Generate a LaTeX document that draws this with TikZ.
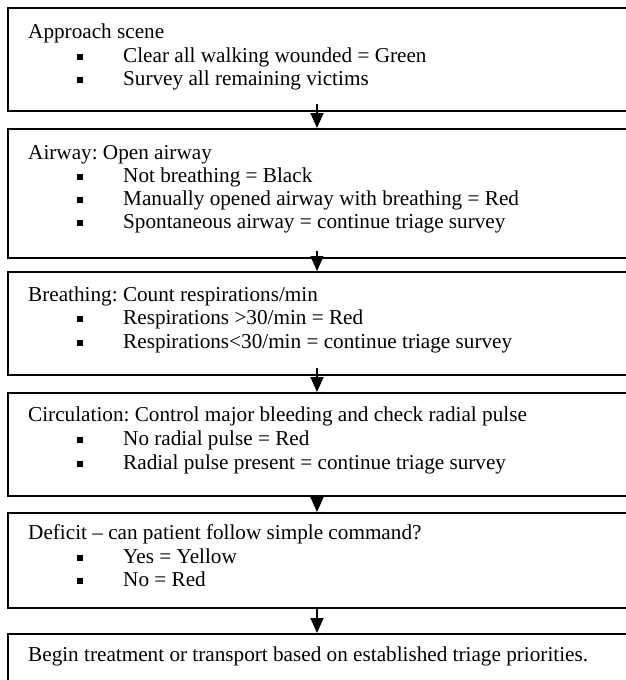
\documentclass[tikz,border=0pt]{standalone}
\usepackage{fontspec}
\setmainfont{Liberation Serif}
\usetikzlibrary{arrows.meta}
\frenchspacing
\tikzset{
  box/.style={draw, line width=1.5pt, rectangle, anchor=north west, minimum width=680pt, inner sep=0pt},
  ttl/.style={anchor=base west, inner sep=0pt, font=\fontsize{21.2}{24}\selectfont},
  itm/.style={anchor=base west, inner sep=0pt, font=\fontsize{21.2}{24}\selectfont},
  bul/.style={fill=black, draw=none, minimum size=5.5pt, inner sep=0pt, rectangle},
  arr/.style={line width=1.5pt, -{Triangle[width=13pt,length=15pt]}}
}
\begin{document}
\begin{tikzpicture}[x=1pt,y=-1pt]
\useasboundingbox (0,0) rectangle (626,680);
\fill[white] (0,0) rectangle (626,680);
\coordinate (ax) at (317,0);
% boxes
\node[box, minimum height=103pt] (b1) at (7,7) {};
\node[box, minimum height=129pt] (b2) at (7,128) {};
\node[box, minimum height=103pt] (b3) at (7,271) {};
\node[box, minimum height=103pt] (b4) at (7,392) {};
\node[box, minimum height=95pt] (b5) at (7,512) {};
\node[box, minimum height=80pt] (b6) at (7,633) {};
% box 1
\node[ttl] (t1) at (28,38) {Approach scene};
\node[bul] (k11) at (80,57) {};
\node[itm] (i11) at (123,62) {Clear all walking wounded = Green};
\node[bul] (k12) at (80,80) {};
\node[itm] (i12) at (123,85) {Survey all remaining victims};
% box 2
\node[ttl] (t2) at (28,159) {Airway: Open airway};
\node[bul] (k21) at (80,177) {};
\node[itm] (i21) at (123,182) {Not breathing = Black};
\node[bul] (k22) at (80,200) {};
\node[itm] (i22) at (123,205) {Manually opened airway with breathing = Red};
\node[bul] (k23) at (80,223) {};
\node[itm] (i23) at (123,228) {Spontaneous airway = continue triage survey};
% box 3
\node[ttl] (t3) at (28,301) {Breathing: Count respirations/min};
\node[bul] (k31) at (80,319) {};
\node[itm] (i31) at (123,324) {Respirations >30/min = Red};
\node[bul] (k32) at (80,343) {};
\node[itm] (i32) at (123,348) {Respirations<30/min = continue triage survey};
% box 4
\node[ttl] (t4) at (28,421) {Circulation: Control major bleeding and check radial pulse};
\node[bul] (k41) at (80,440) {};
\node[itm] (i41) at (123,445) {No radial pulse = Red};
\node[bul] (k42) at (80,464) {};
\node[itm] (i42) at (123,469) {Radial pulse present = continue triage survey};
% box 5
\node[ttl] (t5) at (28,539) {Deficit -- can patient follow simple command?};
\node[bul] (k51) at (80,558) {};
\node[itm] (i51) at (123,563) {Yes = Yellow};
\node[bul] (k52) at (80,581) {};
\node[itm] (i52) at (123,586) {No = Red};
% box 6
\node[ttl] (t6) at (28,661) {Begin treatment or transport based on established triage priorities.};
% arrows
\draw[arr] ([yshift=8pt]b1.south -| ax) -- (b2.north -| ax);
\draw[arr] ([yshift=8pt]b2.south -| ax) -- (b3.north -| ax);
\draw[arr] ([yshift=8pt]b3.south -| ax) -- (b4.north -| ax);
\draw[arr] (b4.south -| ax) -- (b5.north -| ax);
\draw[arr] (b5.south -| ax) -- (b6.north -| ax);
\end{tikzpicture}
\end{document}
